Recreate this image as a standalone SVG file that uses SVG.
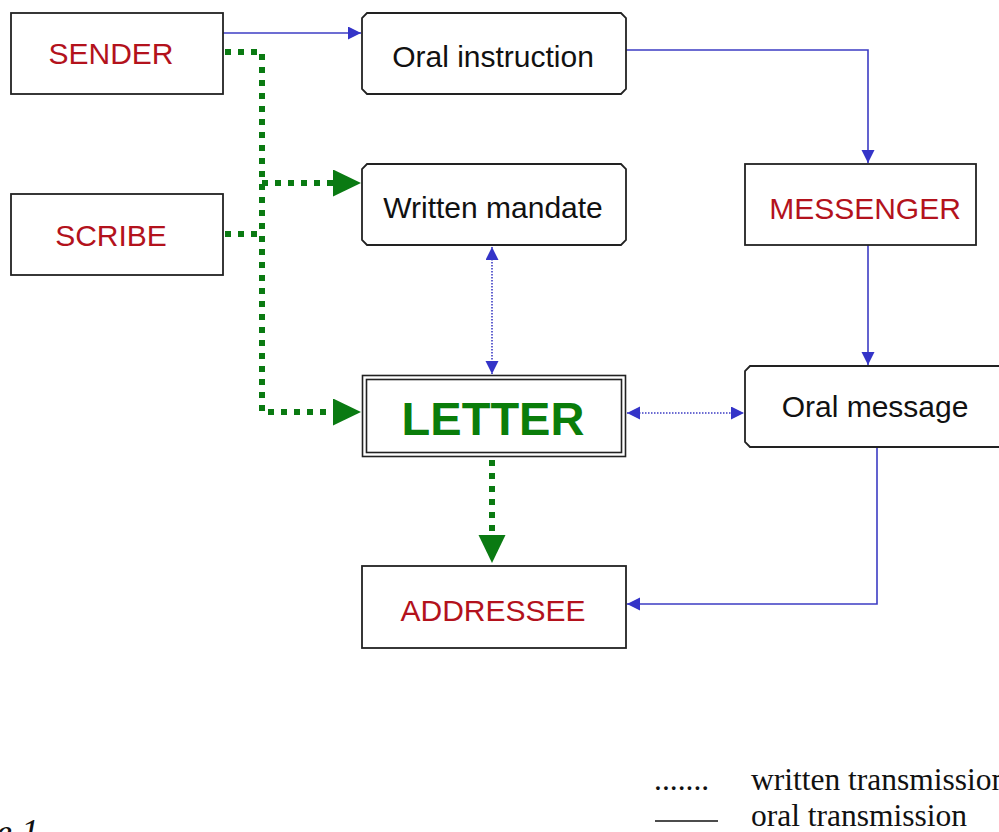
<svg xmlns="http://www.w3.org/2000/svg" width="999" height="832" viewBox="0 0 999 832">
<style>
.box{fill:#fff;stroke:#222;stroke-width:1.8}
.lbl{font-family:"Liberation Sans",Arial,sans-serif;font-size:30px;text-anchor:middle}
.red{fill:#b3121c}
.blk{fill:#111}
.oral{fill:none;stroke:#3c3cc4;stroke-width:1.6}
.wblue{fill:none;stroke:#3c3cc4;stroke-width:1.6;stroke-dasharray:1.5 1.5}
.wgreen{fill:none;stroke:#0a7a12;stroke-width:6;stroke-dasharray:6 7}
.leg{font-family:"Liberation Serif","Times New Roman",serif;font-size:31.5px;fill:#111}
</style>
<defs>
<marker id="ab" markerUnits="userSpaceOnUse" markerWidth="14" markerHeight="14" refX="13" refY="6.5" orient="auto-start-reverse"><path d="M0,0 L13,6.5 L0,13 Z" fill="#3434c8"/></marker>
<marker id="ag" markerUnits="userSpaceOnUse" markerWidth="30" markerHeight="30" refX="28" refY="13.5" orient="auto"><path d="M0,0 L28,13.5 L0,27 Z" fill="#0a7a12"/></marker>
</defs>
<rect width="999" height="832" fill="#fff"/>

<g id="connectors">
<path class="oral" d="M223,33 H361" marker-end="url(#ab)"/>
<path class="oral" d="M626,50 H868 V163" marker-end="url(#ab)"/>
<path class="oral" d="M868,245 V365" marker-end="url(#ab)"/>
<path class="oral" d="M877,447 V604 H627" marker-end="url(#ab)"/>
<path class="wblue" d="M492,247 V374" marker-start="url(#ab)" marker-end="url(#ab)"/>
<path class="wblue" d="M627,413 H744" marker-start="url(#ab)" marker-end="url(#ab)"/>
<path class="wgreen" d="M225,52 H262 V412 H336"/>
<path class="wgreen" d="M262,183 H336"/>
<path class="wgreen" d="M225,234 H262"/>
<path d="M334,412 H361" fill="none" stroke="none" marker-end="url(#ag)"/>
<path d="M334,183 H361" fill="none" stroke="none" marker-end="url(#ag)"/>
<path class="wgreen" d="M492,460 V538"/>
<path d="M492,535 V563" fill="none" stroke="none" marker-end="url(#ag)"/>
</g>

<g id="sender">
<rect class="box" x="11" y="13" width="212" height="81"/>
<text class="lbl red" x="111" y="64">SENDER</text>
</g>
<g id="scribe">
<rect class="box" x="11" y="194" width="212" height="81"/>
<text class="lbl red" x="111" y="246">SCRIBE</text>
</g>
<g id="oral-instruction">
<path class="box" d="M367,13 H621 L626,18 V89 L621,94 H367 L362,89 V18 Z"/>
<text class="lbl blk" x="493" y="67">Oral instruction</text>
</g>
<g id="written-mandate">
<path class="box" d="M367,164 H621 L626,169 V240 L621,245 H367 L362,240 V169 Z"/>
<text class="lbl blk" x="493" y="218">Written mandate</text>
</g>
<g id="messenger">
<rect class="box" x="745" y="164" width="231" height="81"/>
<text class="lbl red" x="865" y="219">MESSENGER</text>
</g>
<g id="letter">
<rect x="362.5" y="375.5" width="263" height="81" fill="#fff" stroke="#222" stroke-width="1.6"/>
<rect x="366.5" y="379.5" width="255" height="73" fill="none" stroke="#222" stroke-width="1.6"/>
<text x="493" y="435" font-family="'Liberation Sans',Arial,sans-serif" font-size="47" font-weight="bold" fill="#0a7d0a" text-anchor="middle">LETTER</text>
</g>
<g id="oral-message">
<path class="box" d="M750,366 H1010 V447 H750 L745,442 V371 Z"/>
<text class="lbl blk" x="875" y="417">Oral message</text>
</g>
<g id="addressee">
<rect class="box" x="362" y="566" width="264" height="82"/>
<text class="lbl red" x="493" y="621">ADDRESSEE</text>
</g>

<g id="legend">
<text class="leg" x="654" y="790">.......</text>
<text class="leg" x="751" y="790">written transmission</text>
<line x1="655" y1="821" x2="718" y2="821" stroke="#111" stroke-width="1.5"/>
<text class="leg" x="751" y="826">oral transmission</text>
<text x="-4" y="844" font-family="'Liberation Serif','Times New Roman',serif" font-size="36" font-style="italic" fill="#111">e 1</text>
</g>
</svg>
